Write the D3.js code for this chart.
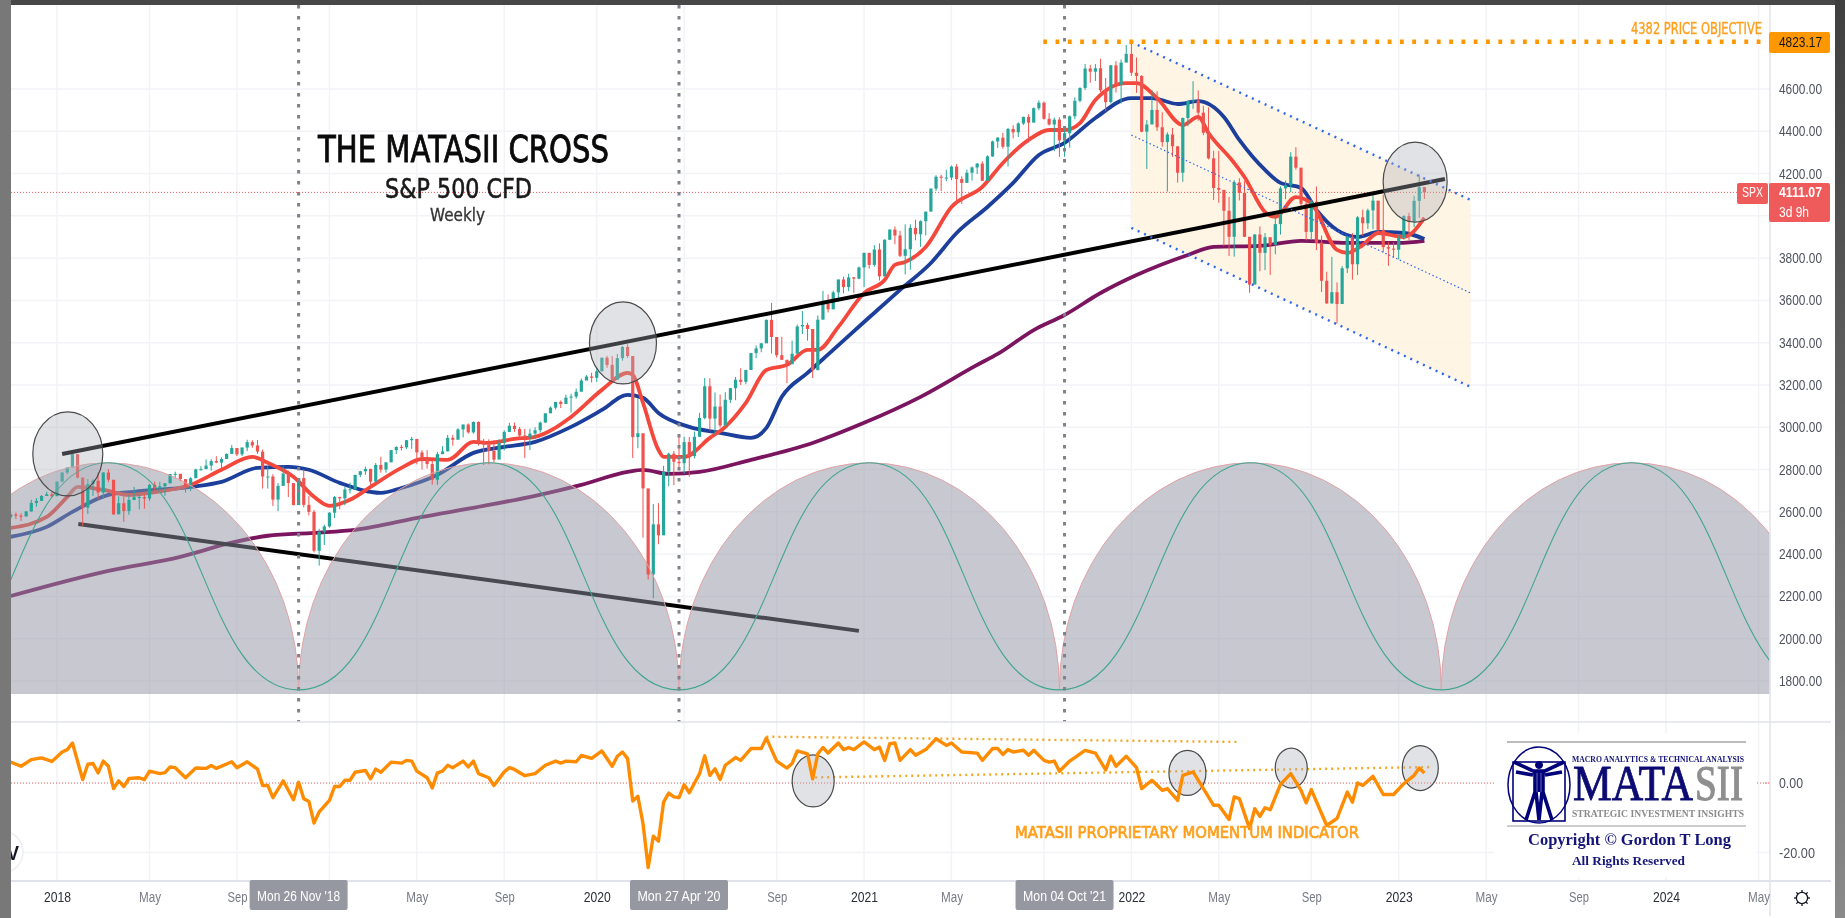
<!DOCTYPE html>
<html><head><meta charset="utf-8">
<script src="https://cdnjs.cloudflare.com/ajax/libs/d3/7.8.5/d3.min.js"></script>
<style>html,body{margin:0;padding:0;background:#fff;overflow:hidden}svg{display:block;filter:blur(.55px)}</style>
</head><body><div id="chart"></div>
<script>
// ---------- weekly S&P 500 candles, first week 30 Oct 2017 ----------
const firstOpen = 2575;
const closes = [
2588,2582,2578,2602,2642,2652,2675,2683,2674,
2743,2786,2810,2873,2762,2620,2732,2747,2691,2786,2752,2588,2641,2604,2656,2670,2670,2663,2728,2713,2721,2735,2779,2780,2755,2718,2759,2801,2802,2819,2840,2833,2850,2874,2902,2872,2904,2930,2914,2885,2767,2767,2658,2723,2781,2736,2632,2760,2633,2600,2416,2506,2531,
2596,2670,2664,2706,2707,2775,2792,2803,2743,2822,2800,2834,2892,2907,2905,2939,2945,2881,2859,2826,2752,2873,2886,2950,2941,2990,3013,2976,3025,2932,2918,2888,2847,2926,2978,3007,2992,2961,2952,2970,2986,3022,3066,3093,3120,3110,3140,3145,3168,3221,3240,3234,
3265,3329,3295,3225,3327,3380,3337,2954,2972,2711,2304,2541,2489,2790,2875,2837,2830,2930,2864,2955,3044,3194,3041,3098,3009,3130,3185,3225,3215,3271,3351,3373,3397,3508,3427,3341,3319,3298,3348,3477,3484,3465,3270,3509,3585,3558,3638,3699,3663,3709,3703,3756,
3825,3768,3841,3714,3887,3935,3907,3811,3842,3943,3913,3975,4020,4129,4185,4180,4181,4233,4174,4156,4204,4229,4247,4166,4281,4352,4370,4327,4411,4395,4437,4468,4441,4509,4535,4459,4432,4455,4357,4391,4471,4544,4605,4697,4682,4698,4594,4538,4712,4620,4725,4766,
4677,4662,4398,4432,4501,4419,4349,4385,4329,4204,4463,4543,4546,4488,4393,4272,4132,4123,4024,3901,4158,4109,3901,3675,3912,3825,3899,3863,3961,4130,4145,4280,4228,4057,3924,4067,3873,3693,3586,3639,3583,3752,3901,3771,3993,3965,4026,4072,3934,3852,3845,3840,
3895,3999,3972,4071,4136,4111];
const highs = [
2597,2597,2593,2605,2657,2665,2680,2695,2695,
2743,2787,2810,2878,2870,2763,2755,2754,2789,2787,2802,2741,2674,2672,2680,2718,2683,2683,2732,2743,2742,2736,2779,2790,2775,2746,2764,2804,2816,2848,2849,2863,2858,2877,2916,2893,2906,2941,2939,2940,2895,2816,2778,2736,2815,2795,2691,2760,2800,2675,2609,2520,2539,
2598,2675,2672,2717,2738,2775,2794,2814,2804,2831,2860,2836,2893,2910,2917,2940,2955,2932,2892,2892,2841,2884,2911,2964,2964,2996,3013,3018,3028,3028,2945,2943,2939,2943,2986,3021,3022,3002,2993,2993,3000,3027,3066,3098,3120,3127,3154,3158,3183,3231,3247,3258,
3282,3330,3338,3337,3347,3385,3393,3259,3137,2882,2553,2637,2641,2818,2880,2888,2955,2955,2954,2980,3068,3233,3232,3165,3155,3166,3186,3238,3279,3272,3352,3387,3399,3510,3588,3425,3428,3320,3410,3486,3550,3494,3464,3529,3645,3628,3646,3699,3712,3726,3711,3760,
3826,3810,3861,3870,3889,3937,3950,3929,3960,3960,3982,3979,4020,4129,4192,4195,4218,4238,4245,4187,4219,4234,4250,4258,4287,4356,4372,4393,4416,4429,4442,4469,4480,4513,4546,4541,4486,4465,4466,4415,4475,4560,4608,4718,4714,4718,4743,4652,4713,4732,4740,4808,
4818,4749,4665,4453,4595,4590,4490,4395,4416,4329,4465,4546,4637,4593,4521,4513,4308,4308,4081,4090,4169,4178,4164,3838,3913,3950,3919,3874,4012,4140,4167,4301,4325,4218,4072,4076,4139,3907,3736,3806,3685,3762,3906,3918,3999,4029,4034,4100,4001,4101,3877,3875,
3907,4003,4015,4095,4195,4123];
const lows = [
2566,2566,2557,2594,2600,2624,2651,2675,2667,
2683,2742,2778,2808,2759,2533,2590,2675,2659,2661,2741,2585,2593,2553,2586,2660,2612,2615,2652,2702,2704,2676,2735,2758,2745,2691,2698,2770,2795,2809,2795,2830,2802,2853,2884,2864,2864,2887,2903,2874,2710,2710,2628,2603,2723,2670,2631,2649,2621,2583,2408,2346,2443,
2525,2570,2612,2631,2687,2704,2764,2775,2722,2734,2785,2785,2849,2873,2891,2897,2898,2825,2801,2805,2729,2728,2873,2887,2913,2943,2952,2970,2970,2914,2822,2825,2834,2856,2891,2979,2978,2945,2855,2892,2945,2975,3023,3067,3084,3091,3115,3070,3135,3183,3226,3212,
3215,3263,3281,3214,3235,3315,3328,2855,2901,2478,2280,2191,2447,2491,2721,2727,2797,2780,2766,2853,2957,3038,2984,2965,2999,3000,3115,3128,3200,3204,3272,3327,3355,3400,3349,3330,3320,3209,3300,3361,3441,3410,3233,3279,3511,3543,3559,3594,3633,3643,3636,3700,
3663,3750,3760,3694,3725,3885,3866,3805,3723,3745,3884,3853,3907,4035,4118,4118,4164,4169,4057,4056,4159,4167,4198,4165,4165,4279,4321,4318,4233,4366,4373,4430,4347,4442,4500,4455,4427,4306,4279,4279,4322,4457,4537,4595,4630,4638,4585,4495,4531,4583,4531,4729,
4662,4582,4395,4222,4451,4401,4327,4115,4279,4157,4161,4424,4506,4450,4381,4267,4075,4062,3858,3810,3807,4073,3900,3636,3715,3738,3743,3721,3818,3911,4079,4112,4218,4029,3884,3886,3838,3640,3584,3584,3491,3590,3730,3698,3720,3906,3938,3937,3918,3827,3764,3802,
3794,3887,3885,3947,3990,4080];

// ---------- moving averages, read at selected weeks ----------
const redWeeks = [0,7,11,13,18,23,27,35,41,47,50,55,59,62,66,70,76,80,85,90,93,98,102,109,115,120,121,123,126,127,131,136,139,143,147,151,155,157,161,166,170,172,174,178,183,189,193,198,202,205,208,211,217,219,223,228,231,233,238,240,244,246,250,253,258,260,263,266,271,275];
const redValues = [2524,2576,2671,2718,2704,2680,2690,2728,2799,2860,2832,2766,2671,2628,2657,2718,2808,2850,2846,2931,2926,2945,2955,3049,3177,3257,3248,3115,2893,2860,2860,2950,3002,3115,3271,3295,3366,3366,3475,3635,3697,3768,3782,3853,4042,4137,4250,4359,4406,4406,4439,4548,4628,4628,4557,4430,4468,4392,4250,4184,4018,3995,4089,4060,3839,3825,3862,3919,3900,3990];
const blueWeeks = [0,7,12,19,24,35,41,48,54,58,64,72,76,83,90,96,102,109,115,120,123,126,132,138,144,147,150,155,160,166,173,179,184,190,195,200,205,211,218,222,227,231,236,239,244,247,251,254,258,262,266,271,275];
const blueValues = [2482,2529,2600,2680,2695,2718,2742,2808,2813,2799,2737,2690,2713,2775,2879,2907,2931,3002,3082,3153,3139,3068,3002,2974,2950,2997,3144,3257,3366,3498,3650,3777,3919,4042,4156,4288,4345,4463,4557,4557,4529,4543,4468,4359,4217,4156,4132,4028,3933,3900,3924,3919,3891];
const purpleWeeks = [0,8,19,33,43,50,59,67,80,92,102,111,120,123,128,134,144,156,166,177,188,192,199,205,212,219,229,234,243,251,260,270,275];
const purpleValues = [2202,2255,2321,2387,2454,2487,2501,2515,2576,2628,2676,2728,2789,2799,2780,2789,2846,2926,3021,3144,3295,3347,3460,3531,3635,3720,3815,3853,3858,3882,3872,3872,3882];

// ---------- momentum indicator ----------
const momentumWeeks = [0,2,4,6,8,10,11,12,14,15,16,17,18,19,20,21,22,23,25,26,27,29,30,31,32,34,36,38,39,40,43,44,46,48,49,50,51,53,55,56,57,58,59,60,62,63,64,65,66,67,69,70,71,72,74,76,77,78,79,81,82,83,84,85,86,88,89,90,91,93,94,96,97,98,100,102,104,106,107,108,110,111,113,115,117,118,119,120,121,122,123,124,125,126,127,128,129,130,131,132,134,135,136,137,138,139,141,142,144,146,147,149,151,152,153,155,156,157,158,159,161,162,163,164,166,168,169,170,171,172,173,175,176,178,180,182,183,185,188,189,191,192,193,194,195,197,198,199,201,202,203,204,206,209,211,213,214,215,217,219,220,222,224,225,227,228,230,231,234,235,237,238,239,241,242,243,244,245,247,249,251,252,253,256,258,260,261,262,263,265,267,269,271,273,274,275];
const momentumValues = [6.0,4.8,6.7,7.2,6.2,8.9,9.6,11.5,1.0,5.4,5.6,2.9,6.3,4.8,-1.6,0.6,-1.0,1.3,1.5,1.0,3.4,2.7,3.0,4.6,4.4,1.5,4.3,4.2,5.0,4.2,6.1,4.4,6.1,4.0,-0.7,-0.7,-4.2,0.6,-4.8,0.2,-4.5,-5.3,-11.5,-8.3,-5.0,-1.0,-1.0,0.8,0.8,3.1,3.6,1.2,4.0,3.1,6.0,5.7,6.5,6.3,3.4,1.5,-1.4,2.9,3.4,5.1,4.4,6.3,4.6,6.3,2.7,1.5,-0.7,3.2,4.4,3.9,2.1,2.7,5.1,6.3,5.7,6.3,6.1,7.9,7.1,9.2,4.8,7.7,8.9,7.0,-5.2,-3.8,-11.7,-24.3,-15.3,-16.7,-5.5,-2.9,-4.0,-4.2,-0.5,-2.8,2.7,7.8,2.2,4.1,1.0,5.1,7.3,6.5,9.9,9.9,12.9,6.3,4.3,5.6,9.2,8.4,1.2,8.4,10.2,8.6,11.5,9.6,10.2,9.6,11.8,9.6,10.3,6.5,11.3,11.5,6.5,9.6,8.0,9.6,12.7,10.8,11.5,8.9,8.6,6.5,9.9,9.9,8.2,9.6,8.9,9.4,8.0,9.4,6.5,6.0,6.3,3.4,6.3,9.4,8.6,3.8,7.7,4.8,7.7,4.4,-1.6,0.8,-2.1,-1.6,-5.0,2.2,3.2,0.8,-6.4,-6.4,-10.5,-4.0,-4.5,-13.1,-7.4,-9.6,-7.1,-7.7,-0.4,2.7,-2.1,-5.7,-1.9,-12.2,-10.2,-2.6,-5.5,0,-0.7,1.9,-3.3,-3.3,-0.2,2.2,4.3,2.9];

// ---------- axes ----------
const priceTicks = [1800,2000,2200,2400,2600,2800,3000,3200,3400,3600,3800,4000,4200,4400,4600];
const momentumTicks = [0,-20];
const timeTickDates = ["2018-01-01","2018-05-07","2018-09-03","2019-01-07","2019-05-06","2019-09-02","2020-01-06","2020-05-04","2020-09-07","2021-01-04","2021-05-03","2021-09-06","2022-01-03","2022-05-02","2022-09-05","2023-01-02","2023-05-01","2023-09-04","2024-01-01","2024-05-06"];
const timeTickLabels = ["2018","May","Sep","2019","May","Sep","2020","May","Sep","2021","May","Sep","2022","May","Sep","2023","May","Sep","2024","May"];

// ---------- annotations (dates and prices) ----------
const markerDates = ["2018-11-26","2020-04-27","2021-10-04"];
const markerLabels = ["Mon 26 Nov '18","Mon 27 Apr '20","Mon 04 Oct '21"];
const cycleDates = ["2017-06-24","2018-11-26","2020-04-27","2021-09-27","2023-03-01","2024-07-31"];
const cycleTroughPrice = 1758, cycleCrestPrice = 2832, cycleBasePrice = 1739;
const upperTrendDates = ["2018-01-08","2023-03-06"], upperTrendPrices = [2874,4174];
const lowerTrendDates = ["2018-01-30","2020-12-28"], lowerTrendPrices = [2543,2037];
const channelDates = ["2022-01-03","2023-04-10"];
const channelTop = [4822,4075], channelMid = [4382,3635], channelBottom = [3943,3191];
const priceObjective = 4823.17, objectiveStart = "2021-09-05", lastPrice = 4111.07;
const priceCircleWeeks = [11.1,119.1,273.2], priceCircleValues = [2874,3399,4160];
const momentumCircleWeeks = [156.1,228.9,249.1,274.2], momentumCircleValues = [0.6,2.9,4.3,4.3];
const momentumUpperWeeks = [147,239], momentumUpperValues = [13.3,11.8];
const momentumLowerWeeks = [156.5,276.7], momentumLowerValues = [1.6,4.6];

// ---------- setup ----------
const W=1845,H=918, L=11, R=1770, T=5, paneBottom=722, axisBottom=881;
const x = d3.scaleUtc().domain([new Date("2018-01-01"),new Date("2024-01-01")]).range([57,1666]);
const y = d3.scaleLinear().domain([4600,1800]).range([89,681]);
const yM = d3.scaleLinear().domain([0,-20]).range([783,852.6]);
const d = s=>new Date(s);
const firstWeek = d("2017-10-30");
const wk = i=>new Date(+firstWeek + i*7*864e5);
const svg = d3.select("#chart").append("svg").attr("width",W).attr("height",H);
const defs = svg.append("defs");
defs.append("clipPath").attr("id","main").append("rect").attr("x",L).attr("y",T).attr("width",R-L).attr("height",paneBottom-T);
defs.append("clipPath").attr("id","low").append("rect").attr("x",L).attr("y",paneBottom).attr("width",R-L).attr("height",axisBottom-paneBottom);
const grad = defs.append("linearGradient").attr("id","rightEdge").attr("x1",0).attr("x2",0).attr("y1",0).attr("y2",1);
grad.append("stop").attr("offset","0").attr("stop-color","#3f3f3f");
grad.append("stop").attr("offset","1").attr("stop-color","#8a8a8a");

function label(g,t,px,py,size,fill,len,o={}){
  const s = g.append("text").attr("x",px).attr("y",py).text(t)
    .attr("font-family",o.font||"Liberation Sans, Arial, sans-serif").attr("font-size",size).attr("fill",fill)
    .attr("font-weight",o.weight||400).attr("text-anchor",o.anchor||"start")
    .attr("textLength",len).attr("lengthAdjust","spacingAndGlyphs");
  if(o.stroke) s.attr("stroke",fill).attr("stroke-width",o.stroke);
  return s;
}
svg.append("rect").attr("width",W).attr("height",H).attr("fill","#fff");

// grid
const grid = svg.append("g").attr("stroke","#f2f3f7").attr("stroke-width",1.5);
grid.selectAll("line.h").data(priceTicks).join("line").attr("x1",L).attr("x2",R).attr("y1",y).attr("y2",y);
grid.selectAll("line.hm").data([-20]).join("line").attr("x1",L).attr("x2",R).attr("y1",yM).attr("y2",yM);
grid.selectAll("line.v").data(timeTickDates).join("line").attr("x1",s=>x(d(s))).attr("x2",s=>x(d(s))).attr("y1",T).attr("y2",axisBottom);

const main = svg.append("g").attr("clip-path","url(#main)");
// channel fill
const polyPts = [[0,channelTop[0]],[1,channelTop[1]],[1,channelBottom[1]],[0,channelBottom[0]]];
main.append("path").attr("fill","#fff3e0").attr("opacity",.85)
  .attr("d",d3.line().x(p=>x(d(channelDates[p[0]]))).y(p=>y(p[1]))(polyPts)+"Z");
// last price
main.append("line").attr("x1",L).attr("x2",R).attr("y1",y(lastPrice)).attr("y2",y(lastPrice))
  .attr("stroke","#ef5350").attr("stroke-width",1).attr("stroke-dasharray","1 2");
// MAs
const maLine = d3.line().x(p=>x(wk(p[0]))).y(p=>y(p[1])).curve(d3.curveMonotoneX);
[[purpleWeeks,purpleValues,"#7b1560"],[blueWeeks,blueValues,"#1c3f9c"],[redWeeks,redValues,"#f4483c"]].forEach(s=>{
  main.append("path").attr("d",maLine(d3.zip(s[0],s[1]))).attr("fill","none").attr("stroke",s[2]).attr("stroke-width",3.8).attr("stroke-linejoin","round");
});
// lower trend line below the cycle fill
const trend = (ds,ps)=>d3.line().x(p=>x(d(p[0]))).y(p=>y(p[1]))(d3.zip(ds,ps));
main.append("path").attr("d",trend(lowerTrendDates,lowerTrendPrices)).attr("stroke","#000").attr("stroke-width",4).attr("fill","none");
// cycle arcs
const arcPath = (a,b,close)=>{
  const xa=x(d(a)),xb=x(d(b)),ya=y(cycleTroughPrice),base=y(cycleBasePrice);
  const rx=(xb-xa)/2, ry=y(cycleTroughPrice)-y(cycleCrestPrice);
  return `M${xa},${ya}A${rx},${ry} 0 0 1 ${xb},${ya}`+(close?`L${xb},${base}L${xa},${base}Z`:"");
};
const cyclePairs = d3.pairs(cycleDates);
main.selectAll("path.cf").data(cyclePairs).join("path").attr("class","cf").attr("d",p=>arcPath(p[0],p[1],true)).attr("fill","#9193a1").attr("opacity",.5);
// candles
const candles = closes.map((c,i)=>({t:wk(i),o:i?closes[i-1]:firstOpen,c,h:highs[i],l:lows[i]}));
const cg = main.append("g");
const col = q=>q.c>=q.o?"#26a69a":"#ef5350";
cg.selectAll("line").data(candles).join("line").attr("x1",q=>x(q.t)).attr("x2",q=>x(q.t)).attr("y1",q=>y(q.h)).attr("y2",q=>y(q.l)).attr("stroke",col).attr("stroke-width",1);
cg.selectAll("rect").data(candles).join("rect").attr("x",q=>x(q.t)-1.6).attr("width",3.2)
  .attr("y",q=>y(Math.max(q.o,q.c))).attr("height",q=>Math.max(1,Math.abs(y(q.o)-y(q.c)))).attr("fill",col);
// cycle arc outline and sine wave
main.selectAll("path.ca").data(cyclePairs).join("path").attr("class","ca").attr("d",p=>arcPath(p[0],p[1],false)).attr("fill","none").attr("stroke","#e2a3a6").attr("stroke-width",1);
const waveKnots = [];
cycleDates.forEach((c,i)=>{
  waveKnots.push([+d(c),cycleTroughPrice]);
  if(i<cycleDates.length-1) waveKnots.push([(+d(c)+ +d(cycleDates[i+1]))/2,cycleCrestPrice]);
});
main.append("path").attr("d",d3.line().x(p=>x(new Date(p[0]))).y(p=>y(p[1])).curve(d3.curveBumpX)(waveKnots)).attr("fill","none").attr("stroke","#3fa58f").attr("stroke-width",1.1);
// upper trend
main.append("path").attr("d",trend(upperTrendDates,upperTrendPrices)).attr("stroke","#000").attr("stroke-width",4).attr("fill","none");
// channel lines
[[channelTop,2.4,"2 5"],[channelMid,1.2,"1.5 2.5"],[channelBottom,2.4,"2 5"]].forEach(s=>{
  main.append("path").attr("d",trend(channelDates,s[0])).attr("stroke","#2f66f0").attr("stroke-width",s[1]).attr("stroke-dasharray",s[2]).attr("fill","none");
});
// objective line
main.append("line").attr("x1",x(d(objectiveStart))).attr("x2",R).attr("y1",y(priceObjective)).attr("y2",y(priceObjective))
  .attr("stroke","#ff9800").attr("stroke-width",4.5).attr("stroke-dasharray","3.8 8.5");
// circles
const circleStyle = g=>g.attr("fill","rgba(172,174,184,.36)").attr("stroke","#4a4a4a").attr("stroke-width",1.2);
const priceR = [[35,42],[33.5,41],[32,40]];
main.selectAll("ellipse").data(priceCircleWeeks).join("ellipse").attr("cx",w=>x(wk(w))).attr("cy",(w,i)=>y(priceCircleValues[i])).attr("rx",(w,i)=>priceR[i][0]).attr("ry",(w,i)=>priceR[i][1]).call(circleStyle);

// vertical markers
svg.append("g").selectAll("line").data(markerDates).join("line").attr("x1",s=>x(d(s))).attr("x2",s=>x(d(s))).attr("y1",T).attr("y2",paneBottom)
  .attr("stroke","#808289").attr("stroke-width",3).attr("stroke-dasharray","3.5 7.5");

// lower pane
const low = svg.append("g").attr("clip-path","url(#low)");
low.append("line").attr("x1",L).attr("x2",R).attr("y1",yM(0)).attr("y2",yM(0)).attr("stroke","#ef5350").attr("stroke-width",1).attr("stroke-dasharray","1 2");
[[momentumUpperWeeks,momentumUpperValues],[momentumLowerWeeks,momentumLowerValues]].forEach(s=>{
  low.append("path").attr("d",d3.line().x(p=>x(wk(p[0]))).y(p=>yM(p[1]))(d3.zip(s[0],s[1]))).attr("stroke","#f5a623").attr("stroke-width",2.4).attr("stroke-dasharray","2 4").attr("fill","none");
});
const momR = [[21,26],[18.5,22.5],[16,20],[18,22.5]];
low.selectAll("ellipse").data(momentumCircleWeeks).join("ellipse").attr("cx",w=>x(wk(w))).attr("cy",(w,i)=>yM(momentumCircleValues[i])).attr("rx",(w,i)=>momR[i][0]).attr("ry",(w,i)=>momR[i][1]).call(circleStyle);
low.append("path").attr("d",d3.line().x(p=>x(wk(p[0]))).y(p=>yM(p[1])).curve(d3.curveLinear)(d3.zip(momentumWeeks,momentumValues))).attr("fill","none").attr("stroke","#ff8c00").attr("stroke-width",3.4).attr("stroke-linejoin","round");

// separators and right edge
const sep = svg.append("g").attr("stroke","#e0e3eb");
sep.append("line").attr("x1",L).attr("x2",1831).attr("y1",paneBottom).attr("y2",paneBottom).attr("stroke-width",1.5);
sep.append("line").attr("x1",L).attr("x2",1831).attr("y1",axisBottom).attr("y2",axisBottom).attr("stroke-width",2);
sep.append("line").attr("x1",R).attr("x2",R).attr("y1",T).attr("y2",H-2).attr("stroke-width",1.5);

// right axis labels built with d3 axis
const ax = svg.append("g").attr("transform",`translate(${R},0)`).call(d3.axisRight(y).tickValues(priceTicks).tickSize(0).tickFormat(d3.format(".2f")));
ax.select(".domain").remove();
ax.selectAll("text").attr("x",9).attr("font-family","Liberation Sans, Arial, sans-serif").attr("font-size",14).attr("fill","#50535e").attr("textLength",43).attr("lengthAdjust","spacingAndGlyphs");
const ax2 = svg.append("g").attr("transform",`translate(${R},0)`).call(d3.axisRight(yM).tickValues(momentumTicks).tickSize(0).tickFormat(d3.format(".2f")));
ax2.select(".domain").remove();
ax2.selectAll("text").text(v=>d3.format(".2f")(v).replace("\u2212","-")).attr("x",9).attr("font-family","Liberation Sans, Arial, sans-serif").attr("font-size",14).attr("fill","#50535e")
  .attr("textLength",v=>v===0?24:36).attr("lengthAdjust","spacingAndGlyphs");
svg.append("line").attr("x1",1765).attr("x2",R).attr("y1",yM(0)).attr("y2",yM(0)).attr("stroke","#ef5350").attr("stroke-dasharray","1 2");

// time axis
const tAxis = svg.append("g").attr("transform",`translate(0,${axisBottom})`).call(d3.axisBottom(x).tickValues(timeTickDates.map(d)).tickSize(0).tickFormat((v,i)=>timeTickLabels[i]));
tAxis.select(".domain").remove();
tAxis.selectAll("text").attr("y",21).attr("dy",0).attr("font-family","Liberation Sans, Arial, sans-serif").attr("font-size",14)
  .attr("fill",(v,i)=>/\d/.test(timeTickLabels[i])?"#2a2e39":"#787b86")
  .attr("textLength",(v,i)=>/\d/.test(timeTickLabels[i])?27:(timeTickLabels[i]==="May"?22:20)).attr("lengthAdjust","spacingAndGlyphs");

// marker date boxes
const boxes = svg.append("g");
markerDates.forEach((s,i)=>{
  const mx=x(d(s));
  boxes.append("rect").attr("x",mx-49).attr("y",axisBottom-1).attr("width",98).attr("height",30).attr("rx",2).attr("fill","#9598a1");
  label(boxes,markerLabels[i],mx,axisBottom+20,14,"#fff",83,{anchor:"middle"});
});

// price tags
const tags = svg.append("g");
tags.append("rect").attr("x",1769).attr("y",32).attr("width",61).attr("height",21).attr("rx",2).attr("fill","#ff9800");
label(tags,"4823.17",1779,y(priceObjective)+5,14,"#131722",43);
tags.append("rect").attr("x",1737).attr("y",183).attr("width",31).attr("height",21).attr("rx",2).attr("fill","#ef5a5a");
label(tags,"SPX",1742,y(lastPrice)+5,14,"#fff",21);
tags.append("rect").attr("x",1769).attr("y",183).attr("width",61).attr("height",39).attr("rx",2).attr("fill","#ef5a5a");
label(tags,"4111.07",1779,y(lastPrice)+5,14,"#fff",43,{weight:700});
label(tags,"3d 9h",1779,217,14,"#fff",30);

// titles
const titles = svg.append("g");
label(titles,"THE MATASII CROSS",318,162,38,"#0a0a0a",291,{font:"DejaVu Sans, sans-serif",stroke:.9});
label(titles,"S&P 500 CFD",385,198,27,"#1a1a1a",147,{font:"DejaVu Sans, sans-serif",stroke:.6});
label(titles,"Weekly",430,221,17,"#333",55,{font:"DejaVu Sans, sans-serif",stroke:.3});
label(titles,"4382 PRICE OBJECTIVE",1631,34,15,"#ff9f1c",131,{font:"DejaVu Sans, sans-serif",stroke:.4});
label(titles,"MATASII PROPRIETARY MOMENTUM INDICATOR",1015,838,16,"#ff9f1c",344,{font:"DejaVu Sans, sans-serif",stroke:.7});

// logo panel
const logo = svg.append("g");
logo.append("rect").attr("x",1494).attr("y",733).attr("width",262).attr("height",144).attr("fill","#fff");
logo.append("line").attr("x1",1507).attr("x2",1746).attr("y1",742).attr("y2",742).attr("stroke","#bcbcbc").attr("stroke-width",2);
logo.append("line").attr("x1",1507).attr("x2",1746).attr("y1",826).attr("y2",826).attr("stroke","#9a9a9a").attr("stroke-width",1);
const fig = logo.append("g").attr("fill","none").attr("stroke","#00007a");
fig.append("ellipse").attr("cx",1539).attr("cy",785).attr("rx",31).attr("ry",38).attr("stroke-width",1.5);
fig.append("rect").attr("x",1513).attr("y",762).attr("width",52).attr("height",59).attr("stroke-width",1.6);
fig.append("circle").attr("cx",1539).attr("cy",765).attr("r",3.5).attr("fill","#00007a");
fig.append("path").attr("stroke-width",3.6).attr("d","M1514,762L1533,771L1545,771L1564,762M1516,772L1533,775M1562,772L1545,775M1535,770L1535,792L1526,820M1543,770L1543,792L1552,820M1536,792L1539,820M1542,792L1539,820M1539,770L1539,792");
const serif = {font:"Liberation Serif, Times New Roman, serif",weight:700};
label(logo,"MACRO ANALYTICS & TECHNICAL ANALYSIS",1572,762,9,"#14147a",172,serif);
label(logo,"MATA",1573,800,50,"#0b0b73",120,{font:"Liberation Serif, Times New Roman, serif",stroke:.8});
label(logo,"SII",1695,800,50,"#8f8f8f",48,{font:"Liberation Serif, Times New Roman, serif",stroke:1.2});
label(logo,"STRATEGIC INVESTMENT INSIGHTS",1572,817,11,"#8a8a8a",172,serif);
label(logo,"Copyright © Gordon T Long",1528,845,17,"#14147a",203,serif);
label(logo,"All Rights Reserved",1572,865,13,"#14147a",113,serif);

// tradingview badge
const tv = svg.append("g");
tv.append("circle").attr("cx",2).attr("cy",852).attr("r",21).attr("fill","#fff").attr("stroke","#eceef3").attr("stroke-width",1.5);
label(tv,"V",7,860,21,"#131722",12,{weight:700});
// gear
const gear = svg.append("g").attr("transform","translate(1802,898)").attr("stroke","#131722").attr("fill","none");
gear.append("circle").attr("r",5.6).attr("stroke-width",1.3);
gear.selectAll("line").data(d3.range(8)).join("line").attr("stroke-width",1.3)
  .attr("x1",i=>5.6*Math.cos(i*Math.PI/4)).attr("y1",i=>5.6*Math.sin(i*Math.PI/4))
  .attr("x2",i=>8*Math.cos(i*Math.PI/4)).attr("y2",i=>8*Math.sin(i*Math.PI/4));

// window frame
const frame = svg.append("g");
frame.append("rect").attr("x",0).attr("y",0).attr("width",W).attr("height",5).attr("fill","#474747");
frame.append("rect").attr("x",0).attr("y",0).attr("width",L).attr("height",H).attr("fill","#787878");
frame.append("rect").attr("x",1835).attr("y",0).attr("width",10).attr("height",H).attr("fill","url(#rightEdge)");
</script></body></html>
